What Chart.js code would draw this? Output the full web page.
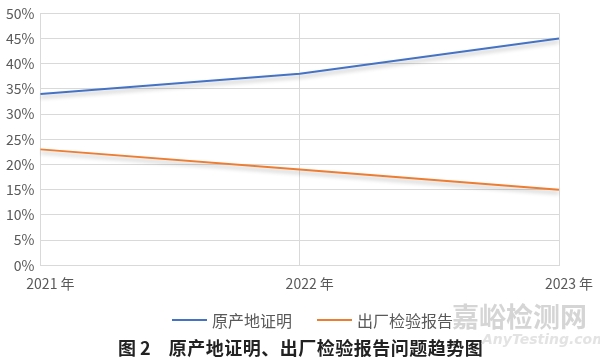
<!DOCTYPE html>
<html>
<head>
<meta charset="utf-8">
<script src="https://cdn.jsdelivr.net/npm/chart.js@4.4.0/dist/chart.umd.min.js"></script>
<style>
  html, body { margin: 0; padding: 0; background: #fff; }
  #wrap { position: relative; width: 600px; height: 359px; overflow: hidden;
          font-family: "Noto Sans CJK SC", sans-serif; }
  #trendChart { position: absolute; left: 0; top: -1px; }
  .leg { position: absolute; top: 310px; height: 20px; line-height: 20px; font-size: 16px; color: #595959; white-space: nowrap; }
  .leg i { position: absolute; top: 9px; width: 35px; height: 2px; }
  .leg span { position: absolute; left: 40px; }
  #caption { position: absolute; left: 118px; top: 337px; font-size: 18px; font-weight: bold; color: #222;
             line-height: 20px; white-space: nowrap; }
  #caption span { margin-left: 18px; letter-spacing: 0.5px; }
  #mark { position: absolute; left: 452px; top: 302px; color: rgba(195,195,195,0.7);
          pointer-events: none; line-height: 1; white-space: nowrap; }
  #mark .big { font-size: 27px; font-weight: bold; }
  #mark .small { font-size: 14px; font-style: italic; font-weight: bold; font-family: "DejaVu Sans", sans-serif;
                 margin-left: 30px; margin-top: 3px; color: rgba(215,215,215,0.7); }
</style>
</head>
<body>
<div id="wrap">
  <canvas id="trendChart" width="600" height="364"></canvas>
  <div id="legend"></div>
  <div id="caption">图 2<span>原产地证明、出厂检验报告问题趋势图</span></div>
  <div id="mark"><div class="big">嘉峪检测网</div><div class="small">AnyTesting.com</div></div>
</div>
<script>
var years = ['2021 年', '2022 年', '2023 年'];
var originCert = [34, 38, 45];     // 原产地证明
var factoryReport = [23, 19, 15];  // 出厂检验报告

document.addEventListener('DOMContentLoaded', function() {

  var fontName = '"Noto Sans CJK SC", sans-serif';

  // soft shadow under each line, like the office chart
  var lineShadow = {
    id: 'lineShadow',
    beforeDatasetDraw: function(chart) {
      var ctx = chart.ctx;
      ctx.save();
      ctx.shadowColor = 'rgba(0,0,0,0.28)';
      ctx.shadowBlur = 4;
      ctx.shadowOffsetY = 3;
    },
    afterDatasetDraw: function(chart) {
      chart.ctx.restore();
    }
  };

  var ctx = document.getElementById('trendChart').getContext('2d');

  var chart = new Chart(ctx, {
    type: 'line',
    data: {
      labels: years,
      datasets: [{
        label: '原产地证明',
        data: originCert,
        borderColor: '#4472C4',
        backgroundColor: '#4472C4',
        borderWidth: 2,
        pointRadius: 0,
        tension: 0
      }, {
        label: '出厂检验报告',
        data: factoryReport,
        borderColor: '#ED7D31',
        backgroundColor: '#ED7D31',
        borderWidth: 2,
        pointRadius: 0,
        tension: 0
      }]
    },
    options: {
      responsive: false,
      animation: false,
      layout: { padding: { left: 0, right: 41, top: 0, bottom: 61 } },
      scales: {
        x: {
          offset: false,
          grid: { color: '#d9d9d9', drawTicks: false },
          border: { color: '#d9d9d9' },
          ticks: {
            color: '#595959',
            padding: 10,
            labelOffset: 10,
            maxRotation: 0,
            font: { family: fontName, size: 14 }
          }
        },
        y: {
          min: 0,
          max: 50,
          grid: { color: '#d9d9d9', drawTicks: false },
          border: { color: '#d9d9d9' },
          ticks: {
            stepSize: 5,
            color: '#595959',
            padding: 6,
            font: { family: fontName, size: 14 },
            callback: function(v) { return v + '%'; }
          }
        }
      },
      plugins: {
        legend: { display: false },
        tooltip: { enabled: false }
      }
    },
    plugins: [lineShadow]
  });

  // legend built from the datasets
  var legendX = [172, 317];
  var box = document.getElementById('legend');
  chart.data.datasets.forEach(function(ds, i) {
    var item = document.createElement('div');
    item.className = 'leg';
    item.style.left = legendX[i] + 'px';
    item.innerHTML = '<i style="background:' + ds.borderColor + '"></i><span>' + ds.label + '</span>';
    box.appendChild(item);
  });

});
</script>
</body>
</html>
